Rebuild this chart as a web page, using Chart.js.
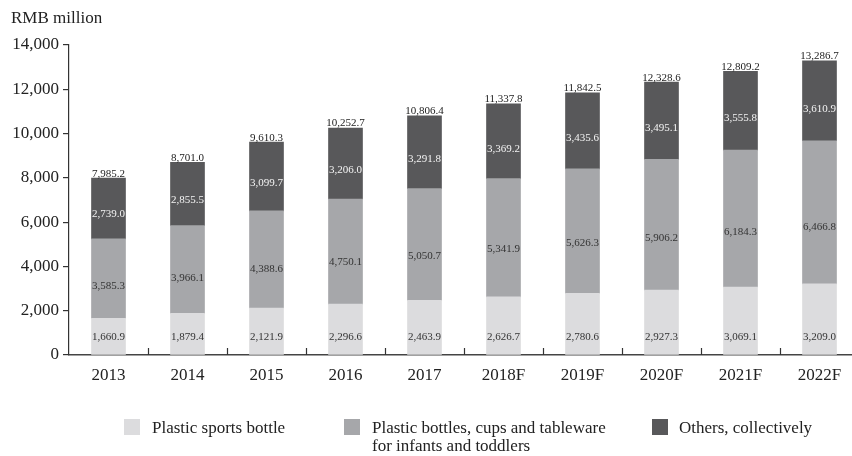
<!DOCTYPE html>
<html>
<head>
<meta charset="utf-8">
<script src="https://cdn.jsdelivr.net/npm/chart.js@4.4.0/dist/chart.umd.min.js"></script>
<style>
  html, body { margin: 0; padding: 0; background: #fff; }
  #wrap { position: relative; width: 852px; height: 456px; overflow: hidden; }
  #box { position: absolute; left: 0; top: 0; width: 862px; height: 456px; }
  .legend { position: absolute; top: 0; left: 0; font-family: "Liberation Serif", serif; font-size: 17px; line-height: 18px; color: #222; }
  .legend .sw { position: absolute; width: 16px; height: 16px; top: 419px; }
  .legend .tx { position: absolute; top: 419px; white-space: nowrap; }
</style>
</head>
<body>
<div id="wrap">
  <div id="box"><canvas id="chart" width="862" height="456"></canvas></div>
  <div class="legend" id="legend"></div>
</div>
<script>
const years = ["2013", "2014", "2015", "2016", "2017", "2018F", "2019F", "2020F", "2021F", "2022F"];
const sportsBottle = [1660.9, 1879.4, 2121.9, 2296.6, 2463.9, 2626.7, 2780.6, 2927.3, 3069.1, 3209.0];
const infantWare = [3585.3, 3966.1, 4388.6, 4750.1, 5050.7, 5341.9, 5626.3, 5906.2, 6184.3, 6466.8];
const others = [2739.0, 2855.5, 3099.7, 3206.0, 3291.8, 3369.2, 3435.6, 3495.1, 3555.8, 3610.9];
const totals = [7985.2, 8701.0, 9610.3, 10252.7, 10806.4, 11337.8, 11842.5, 12328.6, 12809.2, 13286.7];
const yTicks = [0, 2000, 4000, 6000, 8000, 10000, 12000, 14000];
const seriesNames = [
  ["Plastic sports bottle"],
  ["Plastic bottles, cups and tableware", "for infants and toddlers"],
  ["Others, collectively"],
];

const colors = ["#dcdcde", "#a6a7aa", "#58585a"];
const labelColors = ["#333", "#333", "#f4f4f4"];
const serif = "'Liberation Serif', 'Times New Roman', serif";

const fmt = (v) =>
  v.toLocaleString("en-US", { minimumFractionDigits: 1, maximumFractionDigits: 1 });

// value labels inside each segment, totals on top, plus the small
// category ticks above the x axis and the unit caption
const barLabels = {
  id: "barLabels",
  afterDatasetsDraw(chart) {
    const ctx = chart.ctx;
    ctx.save();
    ctx.font = "11px " + serif;
    ctx.textAlign = "center";
    ctx.textBaseline = "middle";
    chart.data.datasets.forEach((ds, di) => {
      const meta = chart.getDatasetMeta(di);
      meta.data.forEach((bar, i) => {
        const top = bar.y;
        const base = bar.base;
        let y;
        if (di === 0) y = base - 17;
        else y = top + (base - top) * 0.6;
        ctx.fillStyle = labelColors[di];
        ctx.fillText(fmt(ds.data[i]), bar.x, y);
      });
    });

    const topMeta = chart.getDatasetMeta(chart.data.datasets.length - 1);
    ctx.fillStyle = "#222";
    ctx.textBaseline = "alphabetic";
    topMeta.data.forEach((bar, i) => {
      ctx.fillText(fmt(totals[i]), bar.x, bar.y - 1.5);
    });

    const xs = chart.scales.x;
    const bottom = chart.chartArea.bottom;
    ctx.strokeStyle = "#333";
    ctx.lineWidth = 1.2;
    for (let i = 1; i < years.length; i++) {
      const x = Math.round(xs.getPixelForValue(i - 0.5)) + 0.5;
      ctx.beginPath();
      ctx.moveTo(x, bottom);
      ctx.lineTo(x, bottom - 7);
      ctx.stroke();
    }

    ctx.fillStyle = "#222";
    ctx.textAlign = "left";
    ctx.font = "17px " + serif;
    ctx.fillText("RMB million", 11, 23);
    ctx.restore();
  },
};

new Chart(document.getElementById("chart"), {
  type: "bar",
  data: {
    labels: years,
    datasets: [
      { label: seriesNames[0].join(" "), data: sportsBottle, backgroundColor: colors[0] },
      { label: seriesNames[1].join(" "), data: infantWare, backgroundColor: colors[1] },
      { label: seriesNames[2].join(" "), data: others, backgroundColor: colors[2] },
    ],
  },
  options: {
    responsive: false,
    animation: false,
    events: [],
    layout: { padding: { top: 45, right: 3, left: 0, bottom: 0 } },
    datasets: { bar: { barThickness: 34, borderWidth: 0 } },
    plugins: { legend: { display: false }, tooltip: { enabled: false } },
    scales: {
      x: {
        stacked: true,
        grid: { display: false, drawTicks: false },
        border: { display: true, color: "#444", width: 1.5 },
        ticks: { color: "#222", font: { family: serif, size: 17 }, padding: 10 },
        afterFit(scale) { scale.height = 101; },
      },
      y: {
        stacked: true,
        min: 0,
        max: 14000,
        afterBuildTicks(scale) { scale.ticks = yTicks.map((v) => ({ value: v })); },
        grid: { drawOnChartArea: false, drawTicks: true, tickLength: 6, color: "#333", lineWidth: 1.2 },
        border: { display: true, color: "#333", width: 1.2 },
        ticks: {
          color: "#222",
          padding: 4,
          font: { family: serif, size: 17 },
          callback: (v) => v.toLocaleString("en-US"),
        },
        afterFit(scale) { scale.width = 69; },
      },
    },
  },
  plugins: [barLabels],
});

// legend below the plot
const legendPos = [[124, 152], [344, 372], [652, 679]];
const legend = document.getElementById("legend");
seriesNames.forEach((lines, i) => {
  const sw = document.createElement("div");
  sw.className = "sw";
  sw.style.left = legendPos[i][0] + "px";
  sw.style.background = colors[i];
  const tx = document.createElement("div");
  tx.className = "tx";
  tx.style.left = legendPos[i][1] + "px";
  tx.innerHTML = lines.join("<br>");
  legend.appendChild(sw);
  legend.appendChild(tx);
});
</script>
</body>
</html>
